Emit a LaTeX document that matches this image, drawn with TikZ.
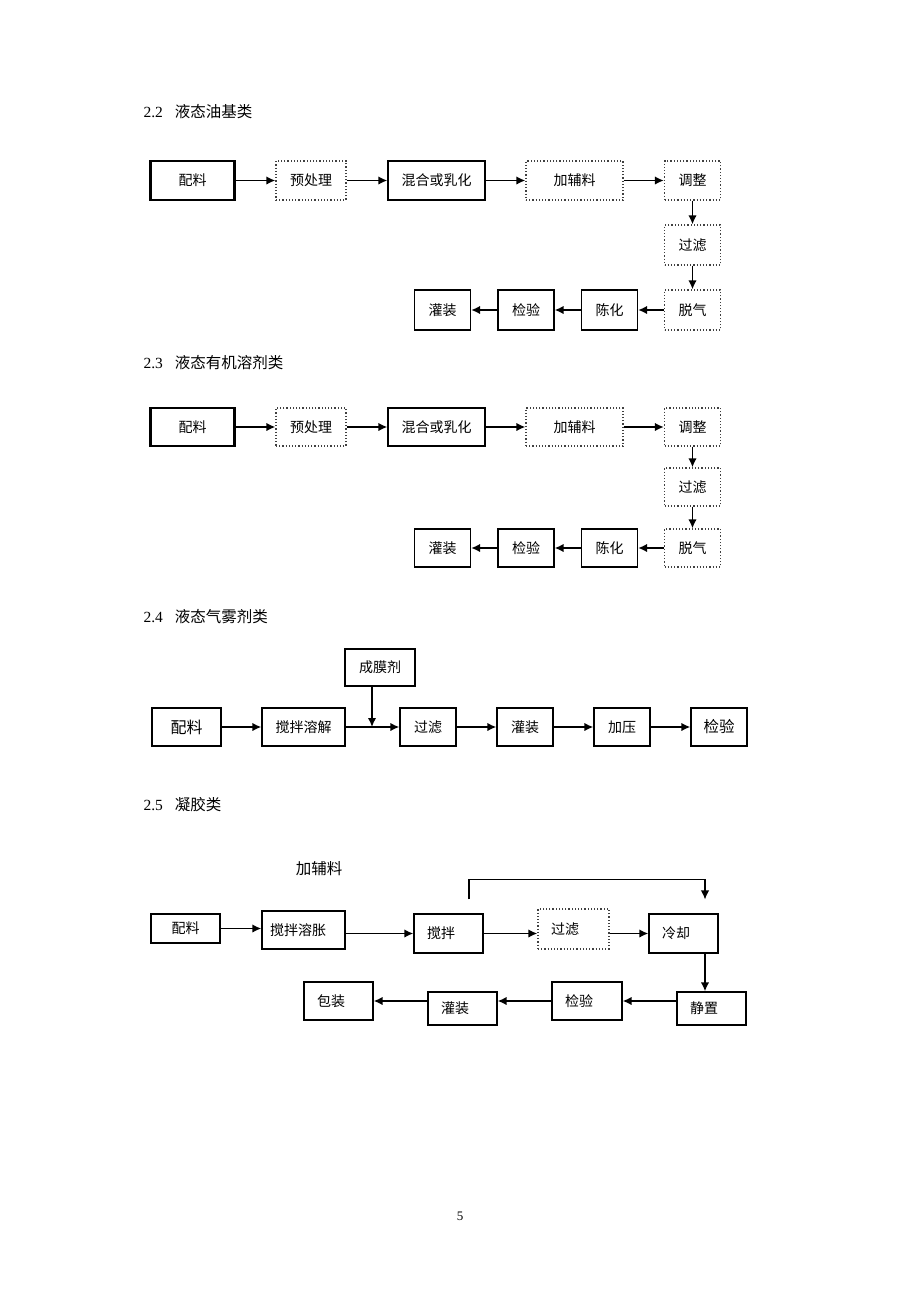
\documentclass[tikz,border=0pt]{standalone}
\usepackage{fontspec}
\setmainfont{Liberation Serif}
\newfontfamily\cjk{Noto Sans CJK SC}
\usepackage{tikz}
\usetikzlibrary{arrows.meta,positioning}

\begin{document}
\begin{tikzpicture}[x=1pt, y=-1pt,
    box/.style={draw, line width=1.2pt, minimum height=39pt, inner sep=2pt, font=\cjk\fontsize{14}{16}\selectfont},
    thickbox/.style={box, line width=2.4pt},
    dotbox/.style={box, dotted, draw=black!75},
    lbox/.style={box, text width=43pt, inner xsep=13pt, align=left},
    arr/.style={-{Latex[length=9pt,width=8.5pt]}, line width=1.8pt},
    head/.style={anchor=west, font=\fontsize{15.5}{18}\selectfont}]
            \useasboundingbox (0,0) rectangle (920,1302);

            % 2.2
            \node (h22) [head] at (140,112) {2.2\hspace{12pt}{\cjk 液态油基类}};
            \node (pl1) [thickbox, minimum width=84pt] at (192.5,180.5) {配料};
            \node (pre1) [dotbox, minimum width=70pt] at (311,180.5) {预处理};
            \node (mix1) [box, minimum width=97pt] at (436.5,180.5) {混合或乳化};
            \node (add1) [dotbox, minimum width=97pt] at (574.5,180.5) {加辅料};
            \node (adj1) [dotbox, minimum width=56pt] at (692.5,180.5) {调整};
            \node (fil1) [dotbox, minimum width=56pt, minimum height=40pt] at (692.5,245) {过滤};
            \node (deg1) [dotbox, minimum width=56pt, minimum height=40pt] at (692.5,310) {脱气};
            \node (age1) [box, minimum width=56pt, minimum height=40pt] at (609.5,310) {陈化};
            \node (chk1) [box, minimum width=56pt, minimum height=40pt] at (526,310) {检验};
            \node (can1) [box, minimum width=56pt, minimum height=40pt] at (442.5,310) {灌装};

            \draw[arr] (pl1) -- (pre1);
            \draw[arr] (pre1) -- (mix1);
            \draw[arr] (mix1) -- (add1);
            \draw[arr] (add1) -- (adj1);
            \draw[arr] (adj1) -- (fil1);
            \draw[arr] (fil1) -- (deg1);
            \draw[arr] (deg1) -- (age1);
            \draw[arr] (age1) -- (chk1);
            \draw[arr] (chk1) -- (can1);

            % 2.3
            \node (h23) [head] at (140,363) {2.3\hspace{12pt}{\cjk 液态有机溶剂类}};
            \node (pl2) [thickbox, minimum width=84pt, minimum height=38pt] at (192.5,427) {配料};
            \node (pre2) [dotbox, minimum width=70pt, minimum height=38pt] at (311,427) {预处理};
            \node (mix2) [box, minimum width=97pt, minimum height=38pt] at (436.5,427) {混合或乳化};
            \node (add2) [dotbox, minimum width=97pt, minimum height=38pt] at (574.5,427) {加辅料};
            \node (adj2) [dotbox, minimum width=56pt, minimum height=38pt] at (692.5,427) {调整};
            \node (fil2) [dotbox, minimum width=56pt, minimum height=38pt] at (692.5,487) {过滤};
            \node (deg2) [dotbox, minimum width=56pt, minimum height=38pt] at (692.5,548) {脱气};
            \node (age2) [box, minimum width=56pt, minimum height=38pt] at (609.5,548) {陈化};
            \node (chk2) [box, minimum width=56pt, minimum height=38pt] at (526,548) {检验};
            \node (can2) [box, minimum width=56pt, minimum height=38pt] at (442.5,548) {灌装};

            \draw[arr] (pl2) -- (pre2);
            \draw[arr] (pre2) -- (mix2);
            \draw[arr] (mix2) -- (add2);
            \draw[arr] (add2) -- (adj2);
            \draw[arr] (adj2) -- (fil2);
            \draw[arr] (fil2) -- (deg2);
            \draw[arr] (deg2) -- (age2);
            \draw[arr] (age2) -- (chk2);
            \draw[arr] (chk2) -- (can2);

            % 2.4
            \node (h24) [head] at (140,617) {2.4\hspace{12pt}{\cjk 液态气雾剂类}};
            \node (film3) [box, minimum width=70pt, minimum height=37pt] at (380,667.5) {成膜剂};
            \node (pl3) [thickbox, minimum width=69pt, minimum height=38pt, font=\cjk\fontsize{16}{18}\selectfont] at (186.5,727) {配料};
            \node (dis3) [box, minimum width=83pt, minimum height=38pt] at (303.5,727) {搅拌溶解};
            \node (fil3) [box, minimum width=56pt, minimum height=38pt] at (428,727) {过滤};
            \node (can3) [box, minimum width=56pt, minimum height=38pt] at (525,727) {灌装};
            \node (prs3) [box, minimum width=56pt, minimum height=38pt] at (622,727) {加压};
            \node (chk3) [box, minimum width=56pt, minimum height=38pt, font=\cjk\fontsize{15.5}{18}\selectfont] at (719,727) {检验};

            \draw[arr] (pl3) -- (dis3);
            \draw[arr] (dis3) -- (fil3);
            \draw[arr] (fil3) -- (can3);
            \draw[arr] (can3) -- (prs3);
            \draw[arr] (prs3) -- (chk3);
            \draw[arr] ([xshift=-8pt]film3.south) -- ([xshift=-8pt]film3.south |- dis3.east);

            % 2.5
            \node (h25) [head] at (140,805) {2.5\hspace{12pt}{\cjk 凝胶类}};
            \node (aux4) [font=\cjk\fontsize{15.5}{18}\selectfont] at (319,869) {加辅料};
            \node (pl4) [box, minimum width=69pt, minimum height=29pt] at (185.5,928.5) {配料};
            \node (sw4) [lbox, text width=67pt, inner xsep=8pt, minimum height=38pt] at (303.5,930) {搅拌溶胀};
            \node (st4) [lbox] at (448.5,933.5) {搅拌};
            \node (fl4) [lbox, dotted, draw=black!75, text width=45pt, minimum height=40pt] at (573.5,929) {过滤};
            \node (co4) [lbox] at (683.5,933.5) {冷却};
            \node (rs4) [lbox, minimum height=33pt] at (711.5,1008.5) {静置};
            \node (ck4) [lbox, text width=44pt, minimum height=38pt] at (587,1001) {检验};
            \node (fi4) [lbox, minimum height=33pt] at (462.5,1008.5) {灌装};
            \node (pk4) [lbox, minimum height=38pt] at (338.5,1001) {包装};

            \coordinate (fbs) at ([xshift=20.5pt,yshift=14pt]st4.north);
            \coordinate (fbe) at ([xshift=21.5pt,yshift=14pt]co4.north);

            \draw[arr] (pl4.east) -- (pl4.east -| sw4.west);
            \draw[arr] (st4.west -| sw4.east) -- (st4.west);
            \draw[arr] (st4.east) -- (st4.east -| fl4.west);
            \draw[arr] (co4.west -| fl4.east) -- (co4.west);
            \draw[arr, line width=1.2pt] (fbs) -- ++(0,-20) -| (fbe);
            \draw[arr] ([xshift=21.5pt]co4.south) -- ([xshift=21.5pt]co4.south |- rs4.north);
            \draw[arr] (ck4.east -| rs4.west) -- (ck4.east);
            \draw[arr] (ck4.west) -- (ck4.west -| fi4.east);
            \draw[arr] (pk4.east -| fi4.west) -- (pk4.east);

            \node (pg) [font=\fontsize{13}{15}\selectfont] at (460,1216) {5};
        \end{tikzpicture}
\end{document}
